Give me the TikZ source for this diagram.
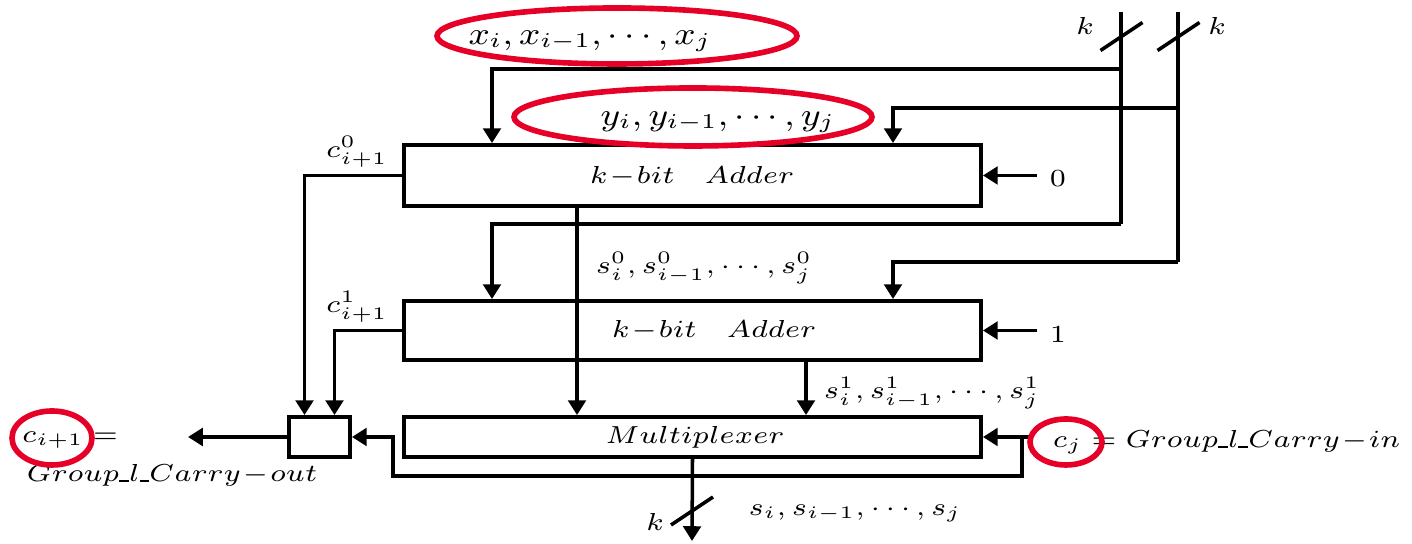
\documentclass[tikz,border=0pt]{standalone}
\usepackage{tikz}
\usepackage[dvipsnames]{xcolor}
\usetikzlibrary{calc, positioning, arrows.meta}
\definecolor{MarkRed}{RGB}{230,0,40}
\tikzset{
    wire/.style={line width=1pt},
    arr/.style={wire, -{Triangle[length=4.2pt,width=5pt]}},
    box/.style={draw, line width=1.1pt, minimum width=5.77cm, inner sep=0pt},
    lbl/.style={font=\fontsize{7.5}{9}\selectfont, xscale=1.15, inner sep=1pt},
    opnd/.style={lbl, font=\fontsize{8.8}{11}\selectfont},
    ring/.style={draw=MarkRed, line width=1.6pt},
}
\newcommand{\Us}{\mbox{\rule[-0.2pt]{0.32em}{0.45pt}}}
\newcommand{\BusMark}[2]{%
    % #1 : x
    % #2 : y
    \draw[wire] ($(#1,#2)+(-0.21,-0.14)$) -- ($(#1,#2)+(0.21,0.14)$);
}

\begin{document}
\begin{tikzpicture}[line join=miter]
    \useasboundingbox (0,0) rectangle (14.12,5.44);

    % adders and multiplexer
    \node[box, minimum height=0.61cm] (adda) at (6.925,3.685) {};
    \node[box, minimum height=0.59cm] (addb) at (6.925,2.135) {};
    \node[box, minimum height=0.40cm] (mux) at (6.925,1.07) {};
    \node[box, minimum width=0.61cm, minimum height=0.40cm] (cmux) at (3.195,1.07) {};

    \node[lbl] (addatxt) at (6.92,3.68) {$k\!-\!bit\quad Adder$};
    \node[lbl] (addbtxt) at (7.14,2.14) {$k\!-\!bit\quad Adder$};
    \node[lbl] (muxtxt) at (6.95,1.07) {$Multiplexer$};

    % operand buses
    \coordinate (xbus) at (11.21,5.32);
    \coordinate (ybus) at (11.78,5.32);
    \coordinate (xa) at (11.21,4.75);
    \coordinate (xb) at (11.21,3.20);
    \coordinate (ya) at (11.78,4.36);
    \coordinate (yb) at (11.78,2.82);
    \coordinate (xin) at (4.92,0);
    \coordinate (yin) at (8.93,0);

    \draw[wire] (xbus) -- (xb);
    \draw[wire] (ybus) -- (yb);
    \draw[arr] (xa) -| (xin |- adda.north);
    \draw[arr] (ya) -| (yin |- adda.north);
    \draw[arr] (xb) -| (xin |- addb.north);
    \draw[arr] (yb) -| (yin |- addb.north);
    \BusMark{11.215}{5.075}
    \BusMark{11.785}{5.075}
    \node[lbl] (kx) at (10.85,5.18) {$k$};
    \node[lbl] (ky) at (12.17,5.18) {$k$};

    \node[opnd] (xlbl) at (5.90,5.03) {$x_i, x_{i-1}, \cdots, x_j$};
    \node[opnd] (ylbl) at (7.18,4.22) {$y_i, y_{i-1}, \cdots, y_j$};

    % carry-in constants
    \node[lbl] (zero) at (10.58,3.65) {$0$};
    \node[lbl] (one) at (10.58,2.09) {$1$};
    \coordinate (zin) at (10.37,3.685);
    \coordinate (oin) at (10.37,2.135);
    \draw[arr] (zin) -- (adda.east);
    \draw[arr] (oin) -- (addb.east);

    % sums
    \draw[arr] ([xshift=-1.155cm]adda.south) -- ([xshift=-1.155cm]mux.north);
    \draw[arr] ([xshift=1.135cm]addb.south) -- ([xshift=1.135cm]mux.north);
    \node[lbl] (s0) at (7.04,2.76) {$s^0_i, s^0_{i-1}, \cdots, s^0_j$};
    \node[lbl] (s1) at (9.32,1.51) {$s^1_i, s^1_{i-1}, \cdots, s^1_j$};

    % carries
    \draw[arr] (adda.west) -| ([xshift=-0.15cm]cmux.north);
    \draw[arr] (addb.west) -| ([xshift=0.15cm]cmux.north);
    \node[lbl] (c0) at (3.57,3.92) {$c^0_{i+1}$};
    \node[lbl] (c1) at (3.57,2.37) {$c^1_{i+1}$};

    \node[lbl, anchor=west] (cin) at (10.48,1.02) {$c_j = Group\Us l\Us Carry\!-\!in$};
    \coordinate (cjin) at (10.32,1.07);
    \coordinate (cj) at (10.22,1.07);
    \coordinate (loop) at (3.93,0.68);
    \draw[arr] (cjin) -- (mux.east);
    \draw[arr] (cj) |- (loop) |- (cmux.east);

    \coordinate (cout) at (1.88,1.07);
    \draw[arr] (cmux.west) -- (cout);
    \node[lbl] (couteq) at (0.70,1.04) {$c_{i+1} =$};
    \node[lbl] (couttxt) at (1.72,0.69) {$Group\Us l\Us Carry\!-\!out$};

    % result
    \coordinate (sout) at (6.92,0.03);
    \draw[arr] (mux.south) -- (sout);
    \BusMark{6.92}{0.33}
    \node[lbl] (ks) at (6.55,0.22) {$k$};
    \node[lbl] (sum) at (8.55,0.31) {$s_i, s_{i-1}, \cdots, s_j$};

    % marks
    \draw[ring] (6.17,5.08) ellipse [x radius=1.80, y radius=0.28];
    \draw[ring] (6.93,4.27) ellipse [x radius=1.79, y radius=0.29];
    \draw[ring] (0.52,1.06) ellipse [x radius=0.40, y radius=0.27];
    \draw[ring] (10.66,1.02) ellipse [x radius=0.36, y radius=0.23];

\end{tikzpicture}
\end{document}
